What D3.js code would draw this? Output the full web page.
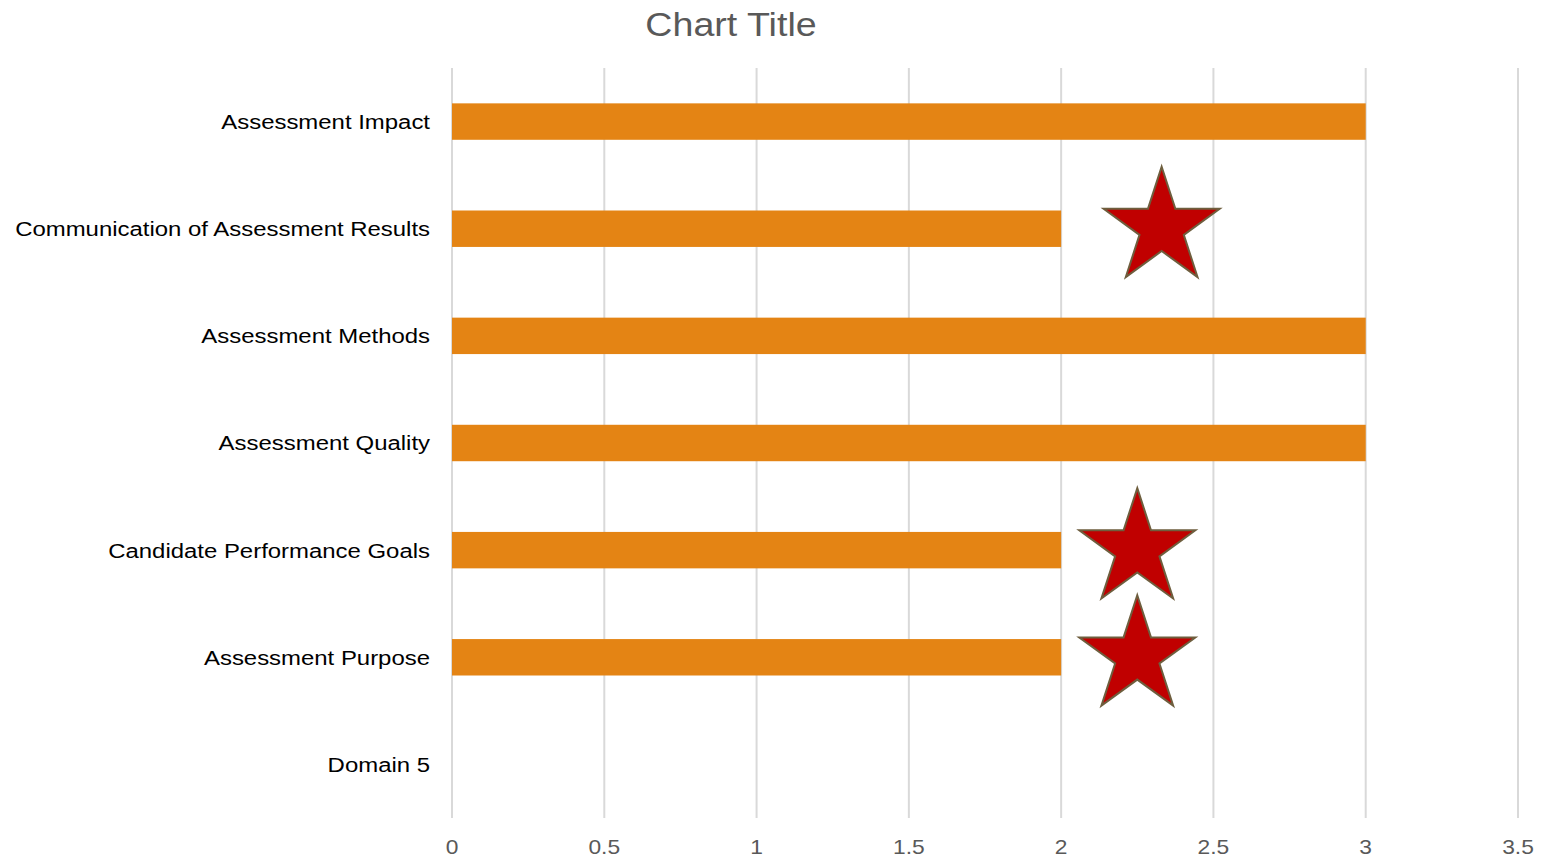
<!DOCTYPE html>
<html>
<head>
<meta charset="utf-8">
<script src="https://cdn.jsdelivr.net/npm/d3@7"></script>
<style>
  body { margin: 0; background: #fff; }
  svg { display: block; font-family: "Liberation Sans", Arial, sans-serif; }
</style>
</head>
<body>
<div id="chart"></div>
<script>
// categories top to bottom
const categories = [
  "Assessment Impact",
  "Communication of Assessment Results",
  "Assessment Methods",
  "Assessment Quality",
  "Candidate Performance Goals",
  "Assessment Purpose",
  "Domain 5"
];
const scores = [3, 2, 3, 3, 2, 2, null];

// star markers (category, x value)
const starCats = ["Communication of Assessment Results", "Candidate Performance Goals", "Assessment Purpose"];
const starValues = [2.33, 2.25, 2.25];

const tickValues = [0, 0.5, 1, 1.5, 2, 2.5, 3, 3.5];

const width = 1542, height = 859;
const margin = { top: 68, right: 24, bottom: 41, left: 452 };
const sx = 1.14; // source image text is a bit stretched horizontally

const svg = d3.select("#chart").append("svg")
    .attr("width", width)
    .attr("height", height);

const x = d3.scaleLinear()
    .domain([0, 3.5])
    .range([margin.left, 1518]);

const y = d3.scaleBand()
    .domain(categories)
    .range([margin.top, height - margin.bottom])
    .paddingInner(0.66)
    .paddingOuter(0.33);

// gridlines
svg.append("g")
  .selectAll("line")
  .data(tickValues)
  .join("line")
    .attr("x1", d => x(d)).attr("x2", d => x(d))
    .attr("y1", margin.top).attr("y2", height - margin.bottom)
    .attr("stroke", "#d9d9d9")
    .attr("stroke-width", 2);

// x tick labels
svg.append("g")
  .selectAll("text")
  .data(tickValues)
  .join("text")
    .attr("transform", d => `translate(${x(d)},854) scale(${sx},1)`)
    .attr("text-anchor", "middle")
    .attr("fill", "#595959")
    .style("font-size", "20px")
    .text(d => d);

// bars
svg.append("g")
  .selectAll("rect")
  .data(categories.map((c, i) => ({ c, v: scores[i] })).filter(d => d.v != null))
  .join("rect")
    .attr("x", x(0))
    .attr("y", d => y(d.c))
    .attr("width", d => x(d.v) - x(0))
    .attr("height", y.bandwidth())
    .attr("fill", "#e48414");

// category labels
svg.append("g")
  .selectAll("text")
  .data(categories)
  .join("text")
    .attr("transform", d => `translate(430,${y(d) + y.bandwidth() / 2}) scale(${sx},1)`)
    .attr("dy", "0.35em")
    .attr("text-anchor", "end")
    .attr("fill", "#000")
    .style("font-size", "21px")
    .text(d => d);

// stars
const R = 61, r = R * 0.382;
const starPts = d3.range(10).map(i => {
  const a = -Math.PI / 2 + i * Math.PI / 5;
  const rad = i % 2 ? r : R;
  return [rad * Math.cos(a), rad * Math.sin(a)];
});
const starPath = "M" + starPts.map(p => p.join(",")).join("L") + "Z";

svg.append("g")
  .selectAll("path")
  .data(starCats.map((c, i) => ({ c, v: starValues[i] })))
  .join("path")
    .attr("transform", d => `translate(${x(d.v)},${y(d.c) + y.bandwidth() / 2 - 1})`)
    .attr("d", starPath)
    .attr("fill", "#c00000")
    .attr("stroke", "#6e5e3e")
    .attr("stroke-width", 2)
    .attr("stroke-linejoin", "miter");

// title
svg.append("text")
    .attr("transform", `translate(731,36) scale(${sx},1)`)
    .attr("text-anchor", "middle")
    .attr("fill", "#595959")
    .style("font-size", "33px")
    .text("Chart Title");
</script>
</body>
</html>
